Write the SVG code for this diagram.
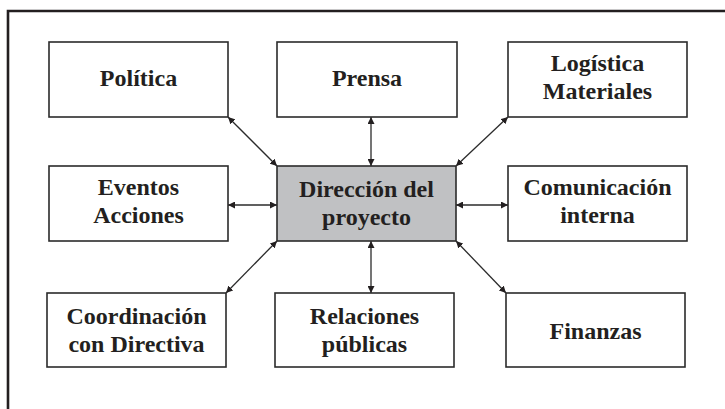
<svg xmlns="http://www.w3.org/2000/svg" width="725" height="409" viewBox="0 0 725 409">
<style>
.box{fill:#ffffff;stroke:#2b2b2b;stroke-width:1.6}
.main{fill:#c0c1c3;stroke:#2b2b2b;stroke-width:1.6}
.lbl{font-family:"Liberation Serif","Times New Roman",serif;font-weight:bold;font-size:24px;fill:#231f20;text-anchor:middle}
.con line{stroke:#2b2b2b;stroke-width:1.3;marker-start:url(#ah);marker-end:url(#ah)}
</style>
<defs>
<marker id="ah" viewBox="0 0 10 10" refX="10" refY="5" markerWidth="7" markerHeight="7" markerUnits="userSpaceOnUse" orient="auto-start-reverse">
<path d="M0,0 L10,5 L0,10 z" fill="#231f20"/>
</marker>
</defs>
<rect width="725" height="409" fill="#ffffff"/>
<path d="M8,409 V11 H725" fill="none" stroke="#231f20" stroke-width="2.6"/>
<g class="con">
<line x1="228" y1="117" x2="277" y2="166"/>
<line x1="371" y1="117" x2="371" y2="166"/>
<line x1="508" y1="117" x2="456" y2="166"/>
<line x1="228" y1="205" x2="277" y2="205"/>
<line x1="456" y1="205" x2="508" y2="205"/>
<line x1="226" y1="293" x2="277" y2="241"/>
<line x1="371" y1="241" x2="371" y2="293"/>
<line x1="456" y1="241" x2="506" y2="293"/>
</g>
<g id="politica"><rect class="box" x="49" y="42" width="179" height="75"/><text class="lbl" x="138.5" y="86">Política</text></g>
<g id="prensa"><rect class="box" x="277" y="42" width="180" height="75"/><text class="lbl" x="367" y="86">Prensa</text></g>
<g id="logistica"><rect class="box" x="508" y="42" width="179" height="75"/><text class="lbl" x="597.5" y="71">Logística</text><text class="lbl" x="597.5" y="99">Materiales</text></g>
<g id="eventos"><rect class="box" x="49" y="166" width="179" height="75"/><text class="lbl" x="138.5" y="195">Eventos</text><text class="lbl" x="138.5" y="223">Acciones</text></g>
<g id="direccion"><rect class="main" x="277" y="166" width="179" height="75"/><text class="lbl" x="366.5" y="197">Dirección del</text><text class="lbl" x="366.5" y="225">proyecto</text></g>
<g id="comunicacion"><rect class="box" x="508" y="166" width="179" height="75"/><text class="lbl" x="597.5" y="195">Comunicación</text><text class="lbl" x="597.5" y="223">interna</text></g>
<g id="coordinacion"><rect class="box" x="47" y="293" width="179" height="74"/><text class="lbl" x="136.5" y="324">Coordinación</text><text class="lbl" x="136.5" y="352">con Directiva</text></g>
<g id="relaciones"><rect class="box" x="275" y="293" width="179" height="74"/><text class="lbl" x="364.5" y="324">Relaciones</text><text class="lbl" x="364.5" y="352">públicas</text></g>
<g id="finanzas"><rect class="box" x="506" y="293" width="179" height="74"/><text class="lbl" x="595.5" y="339">Finanzas</text></g>
</svg>
